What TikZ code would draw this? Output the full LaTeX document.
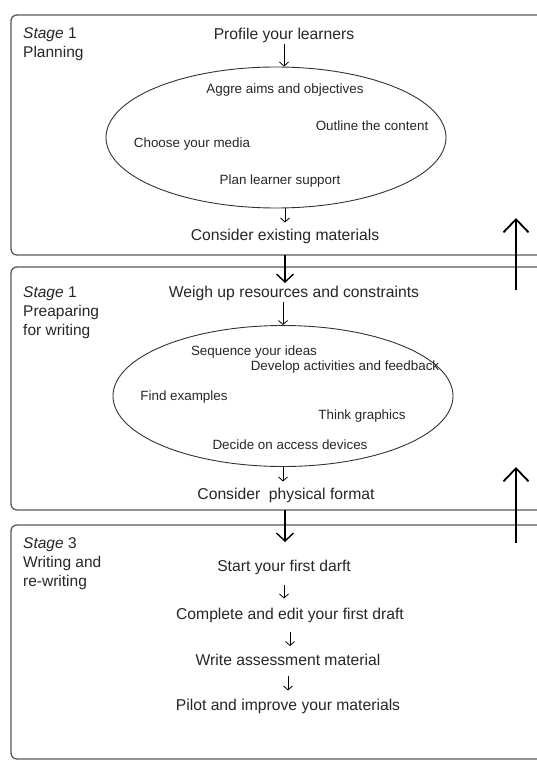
\documentclass[tikz,border=0pt]{standalone}
\usepackage{fontspec}
\setmainfont{Liberation Sans}
\usetikzlibrary{calc, arrows.meta, shapes.geometric}

\begin{document}
\begin{tikzpicture}[x=1pt,y=-1pt,every node/.style={inner sep=1pt,text=black!85},
stagebox/.style={draw=black!65,line width=1.3pt,rounded corners=6pt},
txt/.style={font=\fontsize{15.7}{19}\selectfont},
etxt/.style={font=\fontsize{13.4}{16}\selectfont},
lbl/.style={font=\fontsize{15.5}{19}\selectfont,align=left,anchor=north west},
oval/.style={draw=black!80,ellipse,line width=0.9pt,minimum width=340pt,minimum height=141pt,inner sep=0pt},
small/.style={-{Straight Barb[length=4pt,width=9pt]},line width=0.8pt},
big/.style={-{Straight Barb[length=8pt,width=17pt]},line width=1.4pt},
huge/.style={-{Straight Barb[length=13pt,width=25pt]},line width=1.8pt},
%scale=0.7, transform shape
]
\useasboundingbox (0,0) rectangle (537,760);
\clip (0,0) rectangle (537,760);

% the three stages (open on the right, they run off the page)
\draw [stagebox] (600,15) -- (11,15) -- (11,255) -- (600,255);
\draw [stagebox] (600,267) -- (11,267) -- (11,510) -- (600,510);
\draw [stagebox] (600,525) -- (11,525) -- (11,759) -- (600,759);

\node [lbl] (lOne) at (22,26) {\textit{Stage} 1\\Planning};
\node [lbl] (lTwo) at (22,285) {\textit{Stage} 1\\Preaparing\\for writing};
\node [lbl] (lThree) at (22,536) {\textit{Stage} 3\\Writing and\\re-writing};

% stage 1
\node [txt] (nProfile) at (284,35) {Profile your learners};
\node [oval] (eOne) at (276,137.5) {};
\node [etxt] (nAims) at (285,90) {Aggre aims and objectives};
\node [etxt] (nOutline) at (372,126) {Outline the content};
\node [etxt] (nMedia) at (192,144) {Choose your media};
\node [etxt] (nSupport) at (280,181) {Plan learner support};
\node [txt] (nExisting) at (285,236) {Consider existing materials};

% stage 2
\node [txt] (nWeigh) at (294,293) {Weigh up resources and constraints};
\node [oval] (eTwo) at (283,396) {};
\node [etxt] (nSequence) at (254,352) {Sequence your ideas};
\node [etxt] (nDevelop) at (345,367) {Develop activities and feedback};
\node [etxt] (nExamples) at (184,397) {Find examples};
\node [etxt] (nGraphics) at (362,416) {Think graphics};
\node [etxt] (nDevices) at (290,445) {Decide on access devices};
\node [txt] (nFormat) at (286,495) {Consider\ \ physical format};

% stage 3
\node [txt] (nStart) at (284,567) {Start your first darft};
\node [txt] (nEdit) at (290,615) {Complete and edit your first draft};
\node [txt] (nAssess) at (288,660) {Write assessment material};
\node [txt] (nPilot) at (288,706) {Pilot and improve your materials};

\coordinate (dnA0) at (285,255);
\coordinate (dnA) at (285,283);
\coordinate (dnB0) at (285,510);
\coordinate (dnB) at (285,542);
\coordinate (upA1) at (516,290);
\coordinate (upA2) at (516,218);
\coordinate (upB1) at (516,543);
\coordinate (upB2) at (516,467);

\draw [small] (nProfile.south) -- (nProfile.south |- eOne.north);
\draw [small,shorten >=5pt] (eOne.south -| nExisting) -- (nExisting.north);
\draw [small] (nWeigh.south -| eTwo) -- (eTwo.north);
\draw [small,shorten >=5pt] (eTwo.south) -- (eTwo.south |- nFormat.north);
\draw [small,shorten <=9pt,shorten >=8pt] (nStart.south) -- (nStart.south |- nEdit.north);
\draw [small,shorten <=8pt,shorten >=7pt] (nEdit.south) -- (nEdit.south |- nAssess.north);
\draw [small,shorten <=9pt,shorten >=7pt] (nAssess.south) -- (nAssess.south |- nPilot.north);

\draw [big] (dnA0) -- (dnA);
\draw [big] (dnB0) -- (dnB);
\draw [huge] (upA1) -- (upA2);
\draw [huge] (upB1) -- (upB2);

\end{tikzpicture}
\end{document}
